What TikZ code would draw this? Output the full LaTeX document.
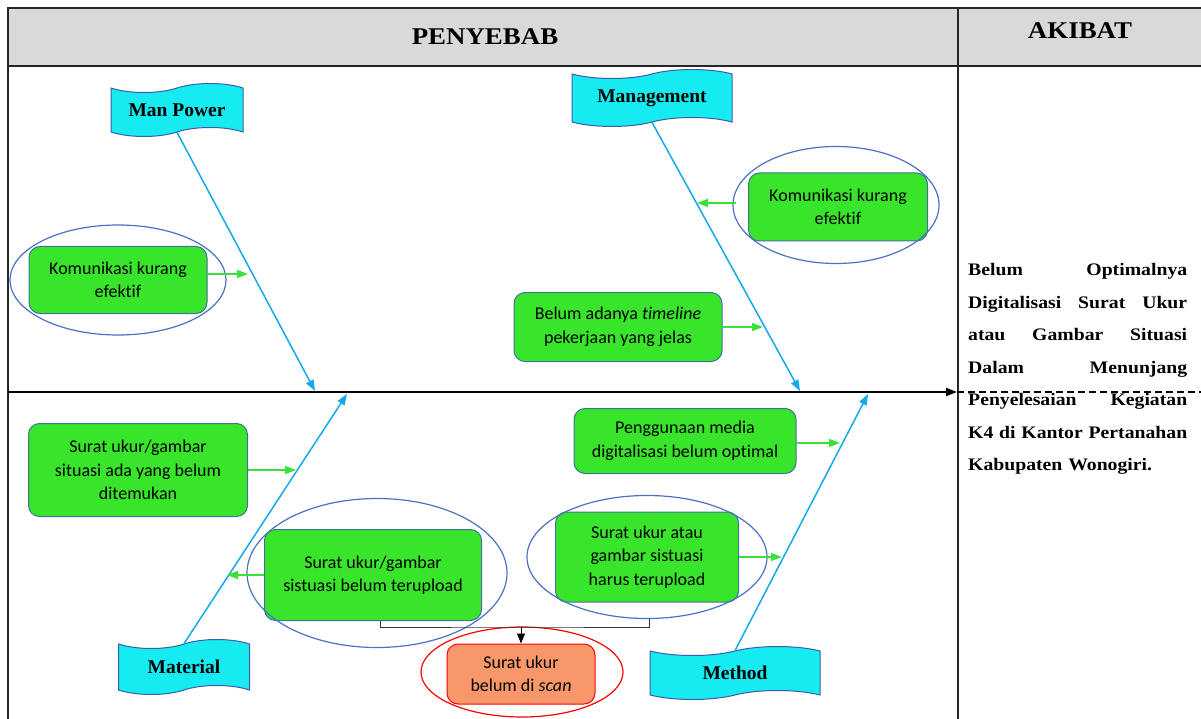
\documentclass[tikz,border=0pt]{standalone}
\usepackage{fontspec}
\setmainfont{Liberation Serif}
\newfontfamily\boxfont[Ligatures=NoCommon]{Carlito}
\newfontfamily\tablefont[FakeStretch=1.12]{Liberation Serif}
\usetikzlibrary{arrows.meta,shapes.geometric,shapes.symbols,positioning}

\definecolor{hdrgray}{HTML}{D9D9D9}
\definecolor{flagcyan}{HTML}{17EBF2}
\definecolor{flagline}{HTML}{3F5AA8}
\definecolor{bonecol}{HTML}{13A9EC}
\definecolor{causegreen}{HTML}{38E52B}
\definecolor{causeline}{HTML}{41719C}
\definecolor{linkgreen}{HTML}{3CE03C}
\definecolor{ovalblue}{HTML}{4A72C2}
\definecolor{scanfill}{HTML}{F8986A}

\begin{document}
\begin{tikzpicture}[x=1pt, y=-1pt, >={Triangle[length=11pt,width=8pt]},
  flag/.style  = {draw=flagline, line width=1pt, fill=flagcyan, shape=tape,
                  tape bend height=9pt, inner sep=0pt,
                  font=\fontsize{19.5}{22}\selectfont\bfseries},
  cause/.style = {draw=causeline, line width=1pt, fill=causegreen, rounded corners=11pt,
                  align=center, inner sep=0pt,
                  font=\boxfont\fontsize{18}{23.5}\selectfont},
  oval/.style  = {draw=ovalblue, line width=1.2pt, ellipse, inner sep=0pt},
  bone/.style  = {draw=bonecol, line width=1.5pt, -{Triangle[length=11pt,width=8pt]}},
  link/.style  = {draw=linkgreen, line width=1.5pt, -{Triangle[length=11pt,width=8pt]}},
  result/.style = {anchor=base west, text width=219pt, align=left, inner sep=0pt,
                  font=\tablefont\bfseries\fontsize{17.6}{32.5}\selectfont},
  ]

    \useasboundingbox (0,0) rectangle (1201,719);
    \clip (0,0) rectangle (1201,719);

    % table
    \fill[hdrgray] (8,8) rectangle (1201,66);
    \draw[line width=2pt, black!85] (8,719) -- (8,8) -- (1201,8)
                                     (8,66) -- (1201,66)
                                     (958,8) -- (958,719);
    \node[font=\tablefont\bfseries\fontsize{24}{28}\selectfont] (cause) at (485,37) {PENYEBAB};
    \node[font=\tablefont\bfseries\fontsize{24}{28}\selectfont] (akibat) at (1080,31) {AKIBAT};

    % spine
    \coordinate (head)  at (8,392);
    \coordinate (tip)   at (957,392);
    \coordinate (tail)  at (1201,392);
    \draw[line width=2pt, ->] (head) -- (tip);
    \draw[line width=1.8pt, dash pattern=on 7pt off 4pt] (tip) -- (tail);

    % categories
    \node[flag, minimum width=132, minimum height=53] (mp)   at (177,110) {Man Power};
    \node[flag, minimum width=160, minimum height=57] (mgmt) at (652,98)  {Management};
    \node[flag, minimum width=131, minimum height=55] (mat)  at (184,667) {Material};
    \node[flag, minimum width=170, minimum height=53] (meth) at (735,673) {Method};

    \coordinate (mpend)   at (315,391);
    \coordinate (mgmtend) at (800,391);
    \coordinate (matend)  at (347,394);
    \coordinate (methend) at (868,394);
    \draw[bone] (mp.south)   -- (mpend);
    \draw[bone] (mgmt.south) -- (mgmtend);
    \draw[bone] (mat.north)  -- (matend);
    \draw[bone] (meth.north) -- (methend);

    % causes
    \node[cause, minimum width=178, minimum height=67] (kom1)  at (118,280) {Komunikasi kurang\\efektif};
    \node[oval, minimum width=216, minimum height=110] (ov1)   at (kom1) {};
    \node[cause, minimum width=179, minimum height=68] (kom2)  at (838,207) {Komunikasi kurang\\efektif};
    \node[oval, minimum width=206, minimum height=117] (ov2)   at (836,205) {};
    \node[cause, minimum width=208, minimum height=69] (plan)  at (618,327) {Belum adanya \textit{timeline}\\pekerjaan yang jelas};
    \node[cause, minimum width=219, minimum height=93] (found) at (138,470) {Surat ukur/gambar\\situasi ada yang belum\\ditemukan};
    \node[cause, minimum width=217, minimum height=91] (upl)   at (373,575) {Surat ukur/gambar\\sistuasi belum terupload};
    \node[oval, minimum width=260, minimum height=149] (ov5)   at (377,573) {};
    \node[cause, minimum width=222, minimum height=65] (media) at (685,441) {Penggunaan media\\digitalisasi belum optimal};
    \node[cause, minimum width=183, minimum height=90] (must)  at (647,557) {Surat ukur atau\\gambar sistuasi\\harus terupload};
    \node[oval, minimum width=240, minimum height=123] (ov7)   at (must) {};
    \node[cause, fill=scanfill, draw=red, minimum width=148, minimum height=60] (scan) at (521,674) {Surat ukur\\belum di \textit{scan}};
    \node[oval, draw=red, minimum width=202, minimum height=90] (ovscan) at (522,672) {};

    % links to bones
    \coordinate (t1) at (248,274);
    \coordinate (t2) at (697,203);
    \coordinate (t3) at (763,327);
    \coordinate (t4) at (296,470);
    \coordinate (t5) at (227,575);
    \coordinate (t6) at (840,443);
    \coordinate (t7) at (782,557);
    \draw[link] (kom1.east |- t1)  -- (t1);
    \draw[link] ([xshift=4pt]ov2.west |- t2) -- (t2);
    \draw[link] (plan.east |- t3)  -- (t3);
    \draw[link] (found.east |- t4) -- (t4);
    \draw[link] (upl.west |- t5)   -- (t5);
    \draw[link] (media.east |- t6) -- (t6);
    \draw[link] (must.east |- t7)  -- (t7);

    % joining bracket
    \coordinate (brk) at (521,627);
    \draw[line width=1pt, black!80] ([xshift=7pt]upl.south) |- (brk) -| ([xshift=2pt]ov7.south);
    \draw[line width=1pt, -{Triangle[length=10pt,width=8pt]}] (brk) -- (scan.north);

    % effect
    \node[result] (effect) at (968,276) {Belum\hfill Optimalnya\\
        Digitalisasi\hfill Surat\hfill Ukur\\
        atau\hfill Gambar\hfill Situasi\\
        Dalam\hfill Menunjang\\
        Penyelesaian\hfill Kegiatan\\
        K4\hfill di\hfill Kantor\hfill Pertanahan\\
        Kabupaten Wonogiri.};
\end{tikzpicture}
\end{document}
